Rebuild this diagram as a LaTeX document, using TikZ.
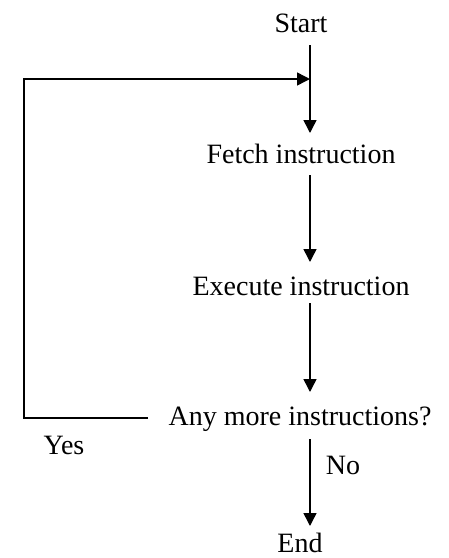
\documentclass[tikz,border=0pt]{standalone}
\usepackage{fontspec}
\setmainfont{Liberation Serif}
\usetikzlibrary{arrows.meta}
\begin{document}
\begin{tikzpicture}[x=1pt,y=-1pt,
  lbl/.style={anchor=base, inner sep=0pt, font=\fontsize{28}{34}\selectfont},
  conn/.style={line width=1.5pt, -{Triangle[length=13pt,width=13pt]}}]
\useasboundingbox (0,0) rectangle (449,558);
\node[lbl] (start) at (301,32) {Start};
\node[lbl] (fetch) at (301,163) {Fetch instruction};
\node[lbl] (exec) at (301,295) {Execute instruction};
\node[lbl] (more) at (300,425) {Any more instructions?};
\node[lbl] (yes) at (64,454) {Yes};
\node[lbl] (no) at (343,474) {No};
\node[lbl] (end) at (300,552) {End};
\coordinate (a1) at (310,45);
\coordinate (a2) at (310,133);
\coordinate (b1) at (310,175);
\coordinate (b2) at (310,262);
\coordinate (c1) at (310,303);
\coordinate (c2) at (310,392);
\coordinate (d1) at (310,439);
\coordinate (d2) at (310,526);
\coordinate (y0) at (148,418);
\coordinate (y1) at (24,418);
\coordinate (y2) at (24,79);
\coordinate (j) at (310,79);
\draw[conn] (a1) -- (a2);
\draw[conn] (b1) -- (b2);
\draw[conn] (c1) -- (c2);
\draw[conn] (d1) -- (d2);
\draw[conn] (y0) -- (y1) -- (y2) -- (j);
\end{tikzpicture}
\end{document}
